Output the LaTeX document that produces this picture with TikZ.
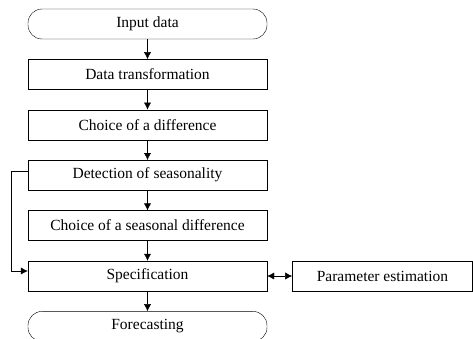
\documentclass[tikz,border=0pt]{standalone}
\usepackage{fontspec}
\setmainfont{Liberation Serif}
\usetikzlibrary{arrows.meta}
\usetikzlibrary{positioning}

\begin{document}
\begin{tikzpicture}[x=1pt,y=-1pt,node distance=20pt,
          box/.style={draw,minimum width=239pt,minimum height=30pt,inner sep=0pt,font=\fontsize{15.5}{18}\selectfont},
          term/.style={box,rounded corners=14pt},
          >={Latex[length=7pt,width=7pt]}]
          \useasboundingbox (0,0) rectangle (473,338);
          \node[term](input) at (147.5,24){Input data};
          \node[box,below=of input](trans){Data transformation};
          \node[box,below=of trans](diff){Choice of a difference};
          \node[box,below=of diff](season){Detection of seasonality};
          \node[box,below=of season](sdiff){Choice of a seasonal difference};
          \node[box,below=of sdiff](spec){Specification};
          \node[term,below=of spec](fore){Forecasting};
          \node[box,minimum width=180pt,right=25pt of spec](param){Parameter estimation};
          \draw[->](input)--(trans); \draw[->](trans)--(diff);
          \draw[->](diff)--(season); \draw[->](season)--(sdiff);
          \draw[->](sdiff)--(spec); \draw[->](spec)--(fore);
          \draw[<->](spec)--(param);
          \draw[->]([yshift=4pt]season.west)-|++(-17pt,0)|-([yshift=5pt]spec.west);
        \end{tikzpicture}
\end{document}
